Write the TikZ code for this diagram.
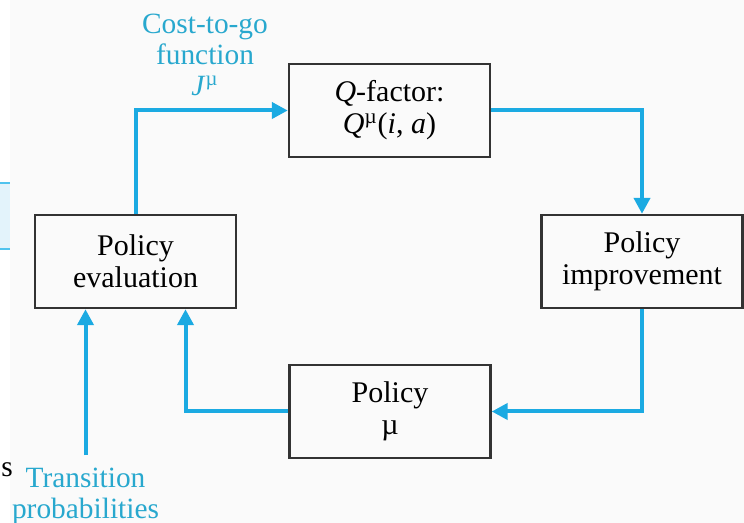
\documentclass[tikz,border=0pt]{standalone}
\usepackage{fontspec}
\setmainfont{Liberation Serif}
\usetikzlibrary{arrows.meta,positioning}

\definecolor{flowblue}{RGB}{27,170,226}
\definecolor{labelblue}{RGB}{40,168,206}
\definecolor{stripfill}{RGB}{227,243,251}
\definecolor{stripline}{RGB}{80,195,238}

\begin{document}
\begin{tikzpicture}[
        x=0.5pt,
        y=-0.5pt,
        box/.style={
            rectangle,
            draw=black!80,
            line width=1.2pt,
            minimum width=100.5pt,
            minimum height=46.5pt,
            align=center,
            font=\fontsize{15}{16}\selectfont,
        },
        flow/.style={
            draw=flowblue,
            line width=2pt,
            -{Triangle[length=8pt,width=8pt]},
        },
        lbl/.style={
            text=labelblue,
            align=center,
            font=\fontsize{14.7}{15.5}\selectfont,
        },
    ]
        \useasboundingbox (0,0) rectangle (744,523);
        \fill[black!2] (10,0) rectangle (744,523);

        % cut-off strip at the left edge
        \fill[stripfill] (0,183) rectangle (10,249);
        \draw[stripline, line width=1pt] (0,183) -- (10,183);
        \draw[stripline, line width=1pt] (0,249) -- (10,249);
        \node[anchor=west, inner sep=0pt, font=\fontsize{14.7}{15}\selectfont] (cut) at (1,470) {s};

        \node [box] (eval) at (135.5,261.5) {Policy\\evaluation};
        \node [box] (qfac) at (389.5,110.5) {\textit{Q}-factor:\\\textit{Q}\textsuperscript{µ}(\textit{i}, \textit{a})};
        \node [box] (improve) at (642,261.5) {Policy\\improvement};
        \node [box] (pol) at (390,411.5) {Policy\\µ};

        \node [lbl] (cost) at (205,55) {Cost-to-go\\function\\\textit{J}\textsuperscript{µ}};
        \node [lbl, anchor=north] (trans) at (85.5,461) {Transition\\probabilities};

        \draw[flow] (eval.north) |- (qfac.west);
        \draw[flow] (qfac.east) -| (improve.north);
        \draw[flow] (improve.south) |- (pol.east);
        \draw[flow] (pol.west) -| ([xshift=25pt]eval.south);
        \draw[flow] ([yshift=3pt]trans.north) -- (trans.north |- eval.south);
    \end{tikzpicture}
\end{document}
